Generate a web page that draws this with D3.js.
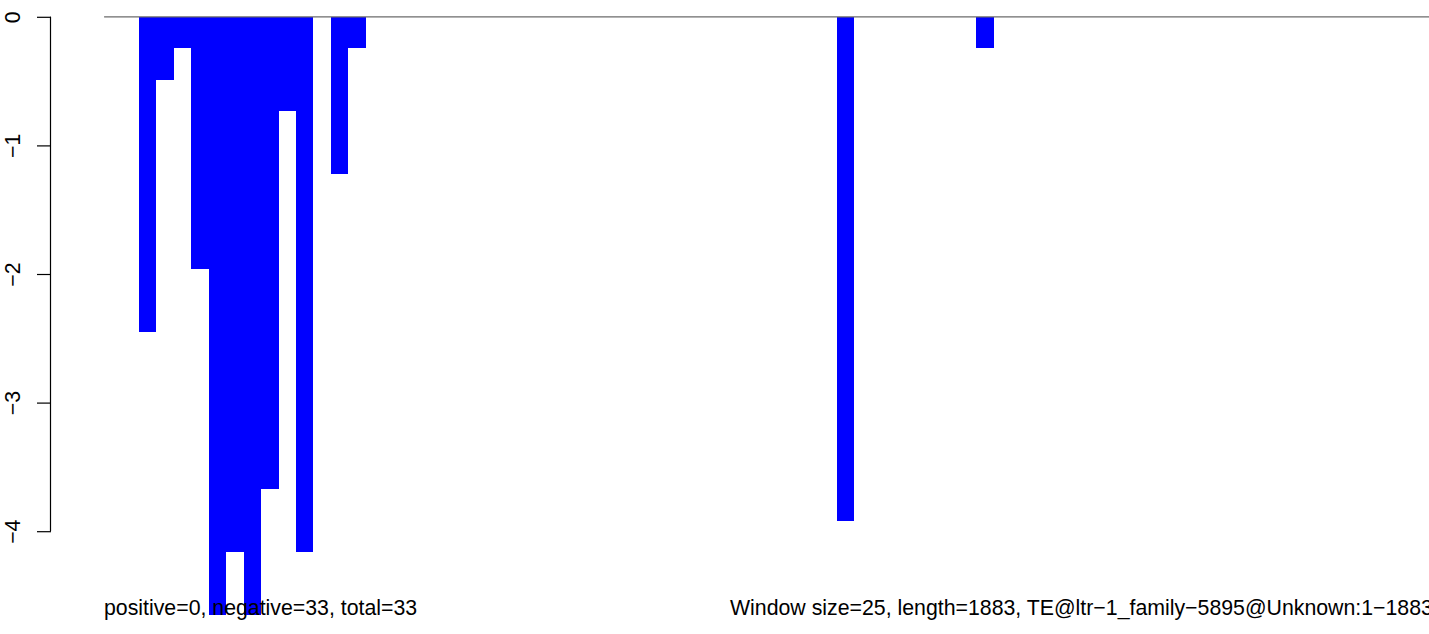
<!DOCTYPE html>
<html>
<head>
<meta charset="utf-8">
<script src="https://cdn.jsdelivr.net/npm/d3@7"></script>
<style>
  html, body { margin: 0; padding: 0; background: #fff; }
  svg { display: block; }
  text { font-family: "Liberation Sans", Arial, Helvetica, sans-serif; }
</style>
</head>
<body>
<svg id="chart" width="1429" height="634"></svg>
<script>
// Window scores (76 windows of size 25 over length 1883)
const values = [
  0, 0, -2.45, -0.49, -0.245, -1.96, -4.655, -4.165, -4.655, -3.675,
  -0.735, -4.165, 0, -1.225, -0.245, 0, 0, 0, 0, 0,
  0, 0, 0, 0, 0, 0, 0, 0, 0, 0,
  0, 0, 0, 0, 0, 0, 0, 0, 0, 0,
  0, 0, -3.92, 0, 0, 0, 0, 0, 0, 0,
  -0.245, 0, 0, 0, 0, 0, 0, 0, 0, 0,
  0, 0, 0, 0, 0, 0, 0, 0, 0, 0,
  0, 0, 0, 0, 0, 0
];
const yTicks = [0, -1, -2, -3, -4];
const leftLabel = "positive=0, negative=33, total=33";
const rightLabel = "Window size=25, length=1883, TE@ltr\u22121_family\u22125895@Unknown:1\u22121883";

const svg = d3.select("#chart");

const x = d3.scaleLinear().domain([0, values.length]).range([104.1, 1430]);
const y = d3.scaleLinear().domain([0, -4]).range([16.8, 531.2]);

// bars
svg.append("g").selectAll("rect")
  .data(values.map((v, i) => ({ i, v })).filter(d => d.v !== 0))
  .join("rect")
  .attr("x", d => x(d.i))
  .attr("width", d => x(d.i + 1) - x(d.i))
  .attr("y", d => y(0))
  .attr("height", d => y(d.v) - y(0))
  .attr("fill", "#0000ff")
  .attr("shape-rendering", "crispEdges");

// zero line
svg.append("line")
  .attr("x1", x(0)).attr("x2", x(values.length))
  .attr("y1", y(0)).attr("y2", y(0))
  .attr("stroke", "#6b6b6b").attr("stroke-width", 1.2);

// y axis
const axisX = 51;
const yAxis = d3.axisLeft(y)
  .tickValues(yTicks)
  .tickSize(14)
  .tickFormat(d => d3.format("d")(d).replace("-", "\u2212"));
const gy = svg.append("g")
  .attr("transform", `translate(${axisX},0)`)
  .call(yAxis);
gy.select(".domain").attr("d", `M-0.5,${y(0)}V${y(-4)}`).attr("stroke", "#000").attr("stroke-width", 1.2);
gy.selectAll(".tick line").attr("stroke", "#000").attr("stroke-width", 1.2);
gy.selectAll(".tick text")
  .attr("x", null).attr("dy", null)
  .attr("transform", "translate(-31,0) rotate(-90)")
  .attr("text-anchor", "middle")
  .attr("fill", "#000")
  .style("font-size", "21.3px")
  .style("font-family", "'Liberation Sans', Arial, sans-serif");

// bottom annotations
svg.append("text")
  .attr("x", 104).attr("y", 615)
  .attr("fill", "#000")
  .style("font-size", "21.3px")
  .text(leftLabel);
svg.append("text")
  .attr("x", 730).attr("y", 615)
  .attr("fill", "#000")
  .style("font-size", "21.3px")
  .text(rightLabel);
</script>
</body>
</html>
